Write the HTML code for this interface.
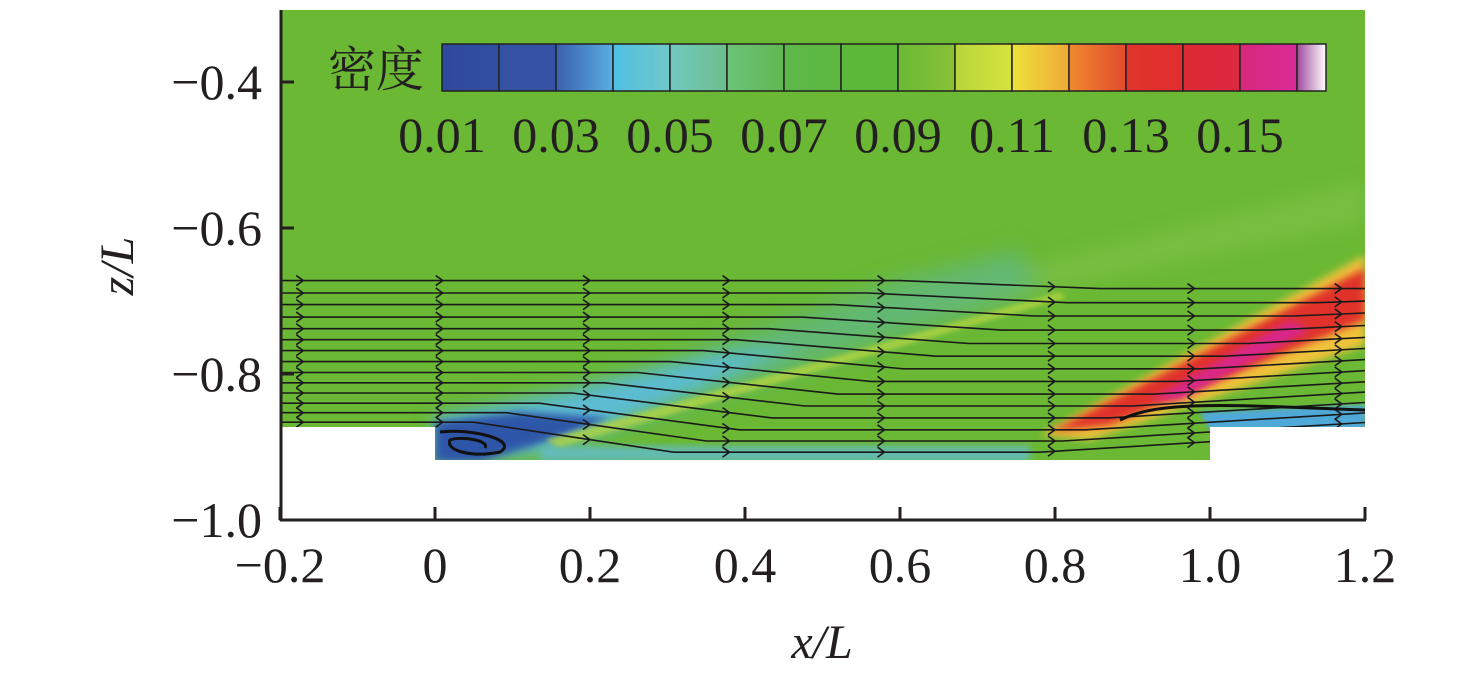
<!DOCTYPE html>
<html><head><meta charset="utf-8"><style>
html,body{margin:0;padding:0;background:#fff;width:1476px;height:679px;overflow:hidden}
svg{display:block}
text{font-family:"Liberation Serif","Noto Serif CJK SC",serif;fill:#231f20}
</style></head><body>
<svg id="chart" width="1476" height="679" viewBox="0 0 1476 679">
<defs>
<filter id="blur12" x="-20%" y="-20%" width="140%" height="140%"><feGaussianBlur stdDeviation="12"/></filter>
<filter id="blur8" x="-20%" y="-20%" width="140%" height="140%"><feGaussianBlur stdDeviation="8"/></filter>
<filter id="blur4" x="-20%" y="-20%" width="140%" height="140%"><feGaussianBlur stdDeviation="4"/></filter>
<filter id="blur2" x="-20%" y="-20%" width="140%" height="140%"><feGaussianBlur stdDeviation="2"/></filter>
<clipPath id="fluid"><path d="M280 10H1365V427H1210V460H435V427H280Z"/></clipPath>
</defs>
<g id="field" clip-path="url(#fluid)">
<rect x="280" y="10" width="1085" height="460" fill="#6ab833"/>
<path d="M850 310 L1365 180 L1365 225 L950 310Z" fill="#80c24c" opacity="0.6" filter="url(#blur8)"/>
<path d="M435 420 L640 370 L900 280 L1020 250 L1040 290 L800 370 L560 450 L435 460Z" fill="#60b87e" opacity="0.85" filter="url(#blur12)"/>
<path d="M435 418 L560 395 L720 355 L800 345 L620 420 L530 452 L435 460Z" fill="#5cbcd2" filter="url(#blur8)"/>
<path d="M435 422 L520 412 L610 418 L545 442 L480 462 L435 462Z" fill="#2f56a8" filter="url(#blur4)"/>
<path d="M540 446 L1030 446 L1030 462 L540 462Z" fill="#62bccb" opacity="0.85" filter="url(#blur4)"/>
<path d="M545 440 L1060 292 L1066 298 L560 447Z" fill="#b8d640" opacity="0.75" filter="url(#blur2)"/>
<path d="M1040 435 L1365 255 L1365 345 L1090 440Z" fill="#f0c23a" filter="url(#blur4)"/>
<path d="M1050 432 L1365 268 L1365 320 L1110 425Z" fill="#e0332c" filter="url(#blur4)"/>
<path d="M1150 400 L1290 320 L1310 330 L1180 400Z" fill="#d8288a" filter="url(#blur4)"/>
<path d="M1200 412 L1365 405 L1365 430 L1210 430Z" fill="#4fa9d8" filter="url(#blur2)"/>
<g id="streamlines"></g>
<path d="M440 432 C470 428 520 440 500 452 C470 458 445 450 450 440 C460 436 490 440 485 448" fill="none" stroke="#111" stroke-width="3"/>
<path d="M1120 420 C1160 400 1230 405 1365 410" fill="none" stroke="#111" stroke-width="3"/>
</g>
<g id="colorbar"></g>
<text x="328" y="86" font-size="48" font-family="Noto Serif CJK SC, serif">密度</text>
<g id="axes">
<line x1="281" y1="10" x2="281" y2="521" stroke="#231f20" stroke-width="3"/>
<line x1="280" y1="520" x2="1366" y2="520" stroke="#231f20" stroke-width="3"/>
</g>
<text x="822" y="658" font-size="48" text-anchor="middle" font-style="italic">x/L</text>
<text transform="translate(133,266) rotate(-90)" font-size="48" text-anchor="middle" font-style="italic">z/L</text>
</svg>
<script>
const xTicks=[-0.2,0,0.2,0.4,0.6,0.8,1.0,1.2];
const xTickLabels=['\u22120.2','0','0.2','0.4','0.6','0.8','1.0','1.2'];
const yTicks=[-0.4,-0.6,-0.8,-1.0];
const yTickLabels=['\u22120.4','\u22120.6','\u22120.8','\u22121.0'];
const cbLabels=['0.01','0.03','0.05','0.07','0.09','0.11','0.13','0.15'];
const cbValues=[0.01,0.03,0.05,0.07,0.09,0.11,0.13,0.15];
const streamStartZ=[-0.672,-0.689,-0.705,-0.722,-0.738,-0.753,-0.768,-0.783,-0.798,-0.812,-0.826,-0.840,-0.853,-0.866];
const NS='http://www.w3.org/2000/svg';
const X=v=>435+(v)*775, Y=v=>82+(-0.4-v)*730;
const svg=document.getElementById('chart');
const axes=document.getElementById('axes');
function mk(t,a,p){const e=document.createElementNS(NS,t);for(const k in a)e.setAttribute(k,a[k]);p.appendChild(e);return e;}
xTicks.forEach((v,i)=>{
 const l=mk('line',{x1:X(v),x2:X(v),y1:520,y2:507,stroke:'#231f20','stroke-width':3},axes);
 
 
 const t=mk('text',{x:X(v),y:582,'font-size':50,'text-anchor':'middle'},svg);
 t.textContent=xTickLabels[i];
 
 
});
yTicks.forEach((v,i)=>{
 const l=mk('line',{x1:281,x2:294,y1:Y(v),y2:Y(v),stroke:'#231f20','stroke-width':3},axes);
 
 
 const t=mk('text',{x:262,y:Y(v)+17,'font-size':50,'text-anchor':'end'},svg);
 t.textContent=yTickLabels[i];
 
 
});
const cb=document.getElementById('colorbar');
const segCols=[['#2f4a9c','#314ea0'],['#3451a3','#3552a4'],['#3a5fae','#5aaee0'],['#4fc0e3','#70c9c8'],['#72c8c0','#6cbf8c'],['#6cc27a','#60b850'],['#5db84a','#5cb840'],['#5bb83a','#5eb835'],['#6ab935','#88c236'],['#b6d63a','#d8e23c'],['#ece43a','#f0a836'],['#ef8a30','#e34a2c'],['#e0352c','#e02e2e'],['#dd2a36','#db2a40'],['#d8287a','#d92c98'],['#a04a9c','#ffffff']];
const defs=svg.querySelector('defs');
const cbX0=442,cbW=57;
segCols.forEach((c,i)=>{
 const g=mk('linearGradient',{id:'sg'+i},defs);
 mk('stop',{offset:0,'stop-color':c[0]},g);mk('stop',{offset:1,'stop-color':c[1]},g);
 const w=i==15?29:cbW;
 const r=mk('rect',{x:cbX0+i*cbW,y:44,width:w,height:47,fill:'url(#sg'+i+')',stroke:'#222','stroke-width':1.5},cb);
 
 
});
cbValues.forEach((v,i)=>{
 const t=mk('text',{x:cbX0+(v-0.01)/0.02*114,y:152,'font-size':50,'text-anchor':'middle'},svg);
 t.textContent=cbLabels[i];
 
 
});
const sl=document.getElementById('streamlines');
streamStartZ.forEach((z,i)=>{
 const y0=Y(z);
 const frac=i/(streamStartZ.length-1);
 const fanX=X(0.05)+(1-frac)*X(0.55)-(1-frac)*X(0);
 const down=8+frac*22;
 const shX=X(0.78)+(1-frac)*300;
 const pts=[[280,y0],[Math.min(fanX,1050),y0],[Math.min(fanX+200,1150),y0+down],[Math.min(shX,1360),y0+down],[1365,y0+down-(frac*20)]];
 let d='M'+pts.map(p=>p[0].toFixed(1)+' '+p[1].toFixed(1)).join(' L');
 const p=mk('path',{d:d,fill:'none',stroke:'#1a1a1a','stroke-width':1.6},sl);
 
 
 [-0.17,0.01,0.2,0.38,0.58,0.8,0.98,1.17].forEach(xa=>{
  const px=X(xa);
  let py=y0;
  for(let k=0;k<pts.length-1;k++){if(px>=pts[k][0]&&px<=pts[k+1][0]){const t=(px-pts[k][0])/(pts[k+1][0]-pts[k][0]);py=pts[k][1]+t*(pts[k+1][1]-pts[k][1]);}}
  const a=mk('path',{d:`M${px-7} ${py-5} L${px} ${py} L${px-7} ${py+5}`,fill:'none',stroke:'#1a1a1a','stroke-width':1.6},sl);
  
  
 });
});
</script>
</body></html>
